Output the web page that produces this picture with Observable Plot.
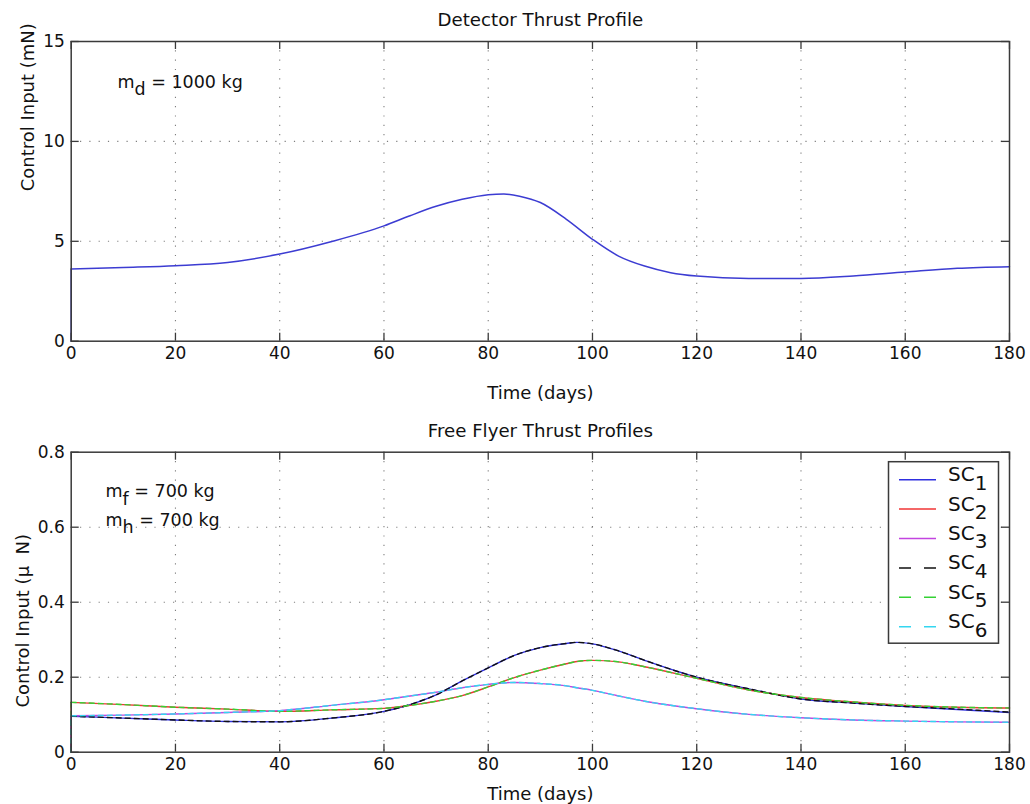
<!DOCTYPE html>
<html>
<head>
<meta charset="utf-8">
<script src="https://cdn.jsdelivr.net/npm/d3@7"></script>
<script src="https://cdn.jsdelivr.net/npm/@observablehq/plot@0.6"></script>
<style>
  body { margin: 0; background: #fff; }
  #wrap { position: relative; width: 1030px; height: 804px; overflow: hidden; background: #fff; }
  #wrap svg { position: absolute; left: 0; }
</style>
</head>
<body>
<div id="wrap"></div>
<script>
// ---------- data ----------
const xTicks = [0, 20, 40, 60, 80, 100, 120, 140, 160, 180];
const topYTicks = [0, 5, 10, 15];
const botYTicks = [0, 0.2, 0.4, 0.6, 0.8];

const detDays   = [0, 0, 10, 20, 30, 40, 50, 60, 65, 70, 75, 80, 83, 86, 90, 95, 100, 105, 110, 115, 120, 130, 140, 150, 160, 170, 180];
const detThrust = [0, 3.61, 3.69, 3.78, 3.94, 4.36, 4.99, 5.77, 6.28, 6.75, 7.1, 7.33, 7.37, 7.26, 6.94, 6.1, 5.1, 4.26, 3.76, 3.43, 3.26, 3.14, 3.14, 3.26, 3.46, 3.65, 3.73];

const ffDays = [0, 0, 10, 20, 30, 40, 50, 60, 65, 70, 75, 80, 85, 90, 95, 97, 100, 105, 110, 120, 130, 140, 150, 160, 170, 180];
const sc1 = [0, 0.096, 0.091, 0.086, 0.082, 0.081, 0.091, 0.109, 0.127, 0.153, 0.19, 0.225, 0.258, 0.279, 0.29, 0.293, 0.289, 0.27, 0.245, 0.2, 0.169, 0.142, 0.131, 0.122, 0.114, 0.106];
const sc2 = [0, 0.133, 0.127, 0.12, 0.115, 0.109, 0.113, 0.117, 0.125, 0.136, 0.151, 0.174, 0.199, 0.219, 0.236, 0.242, 0.245, 0.241, 0.228, 0.197, 0.166, 0.146, 0.134, 0.125, 0.12, 0.118];
const sc3 = [0, 0.097, 0.099, 0.102, 0.106, 0.111, 0.125, 0.14, 0.15, 0.16, 0.172, 0.181, 0.186, 0.183, 0.177, 0.172, 0.165, 0.15, 0.136, 0.116, 0.101, 0.092, 0.086, 0.083, 0.081, 0.08];
const sc4 = [0, 0.096, 0.091, 0.086, 0.082, 0.081, 0.091, 0.109, 0.127, 0.153, 0.19, 0.225, 0.258, 0.279, 0.29, 0.293, 0.289, 0.27, 0.245, 0.2, 0.169, 0.142, 0.131, 0.122, 0.115, 0.107];
const sc5 = [0, 0.133, 0.127, 0.12, 0.115, 0.109, 0.113, 0.117, 0.125, 0.136, 0.151, 0.174, 0.199, 0.219, 0.236, 0.242, 0.245, 0.241, 0.228, 0.197, 0.166, 0.146, 0.134, 0.125, 0.12, 0.118];
const sc6 = [0, 0.097, 0.099, 0.102, 0.106, 0.111, 0.125, 0.14, 0.15, 0.16, 0.172, 0.181, 0.186, 0.183, 0.177, 0.172, 0.165, 0.15, 0.136, 0.116, 0.101, 0.092, 0.086, 0.083, 0.081, 0.08];

const scNames  = ["SC_{1}", "SC_{2}", "SC_{3}", "SC_{4}", "SC_{5}", "SC_{6}"];
const scValues = [sc1, sc2, sc3, sc4, sc5, sc6];
const scColors = ["#2f2fe0", "#f03434", "#c244e0", "#111111", "#34d234", "#34d6f0"];
const scDashed = [false, false, false, true, true, true];

// ---------- helpers ----------
const FONT = "DejaVu Sans, Liberation Sans, sans-serif";
const W = 1030, H = 402;
const ML = 70.7, MR = 21;
const frameW = W - ML - MR;
const gridStyle = {stroke: "#000", strokeOpacity: 0.5, strokeWidth: 1.1, strokeDasharray: "1.2,8.1"};
const axisColor = "#3a3a3a";

function subscripts(svg) {
  d3.select(svg).selectAll("text").each(function () {
    const t = this.textContent;
    if (!t || !t.includes("_{")) return;
    const parts = t.split(/(_\{[^}]*\})/).filter(s => s.length);
    this.textContent = "";
    let down = false;
    for (const p of parts) {
      const ts = document.createElementNS("http://www.w3.org/2000/svg", "tspan");
      if (p.startsWith("_{")) {
        ts.textContent = p.slice(2, -1);
        ts.setAttribute("dy", "0.42em");
        down = true;
      } else {
        ts.textContent = p;
        if (down) { ts.setAttribute("dy", "-0.42em"); down = false; }
      }
      this.appendChild(ts);
    }
  });
}

function frameMarks(yTicks, frameH) {
  return [
    Plot.tickX(xTicks, {x: d => d, insetTop: frameH - 8, stroke: axisColor, strokeWidth: 1.3}),
    Plot.tickX(xTicks, {x: d => d, insetBottom: frameH - 8, stroke: axisColor, strokeWidth: 1.3}),
    Plot.tickY(yTicks, {y: d => d, insetRight: frameW - 8, stroke: axisColor, strokeWidth: 1.3}),
    Plot.tickY(yTicks, {y: d => d, insetLeft: frameW - 8, stroke: axisColor, strokeWidth: 1.3}),
    Plot.frame({stroke: axisColor, strokeWidth: 1.5}),
    Plot.axisX({ticks: xTicks, tickSize: 0, tickPadding: 6, tickFormat: d => String(d), fontSize: 17, label: null, fill: "#111"}),
    Plot.axisY({ticks: yTicks, tickSize: 0, tickPadding: 6.4, tickFormat: d => String(d), fontSize: 17, label: null, fill: "#111"})
  ];
}

// a series: the jump at t=0 drawn straight, the rest drawn as a smooth monotone curve
function seriesLines(days, vals, opts) {
  const pts = days.map((d, i) => ({day: d, v: vals[i]}));
  return [
    Plot.line(pts.slice(0, 2), {x: "day", y: "v", ...opts}),
    Plot.line(pts.slice(1), {x: "day", y: "v", curve: "monotone-x", ...opts})
  ];
}

// ---------- top panel ----------
const MT1 = 41, MB1 = 61.3;
const frameH1 = H - MT1 - MB1;

const topPlot = Plot.plot({
  width: W, height: H,
  marginLeft: ML, marginRight: MR, marginTop: MT1, marginBottom: MB1,
  style: {fontFamily: FONT, fontSize: "17px", color: "#111", background: "transparent", overflow: "visible"},
  x: {domain: [0, 180]},
  y: {domain: [0, 15]},
  marks: [
    Plot.gridX(xTicks.slice(1, -1), gridStyle),
    Plot.gridY(topYTicks.slice(1, -1), gridStyle),
    ...seriesLines(detDays, detThrust, {stroke: "#3c3cd2", strokeWidth: 1.5}),
    ...frameMarks(topYTicks, frameH1),
    Plot.text(["Detector Thrust Profile"], {text: d => d, frameAnchor: "top", dy: -16, lineAnchor: "bottom", fontSize: 18.2, fill: "#111"}),
    Plot.text(["Time (days)"], {text: d => d, frameAnchor: "bottom", dy: 57.4, lineAnchor: "bottom", fontSize: 18, fill: "#111"}),
    Plot.text(["Control Input (mN)"], {text: d => d, frameAnchor: "left", rotate: -90, dx: -37.4, lineAnchor: "bottom", fontSize: 18, fill: "#111"}),
    Plot.text(["m_{d} = 1000 kg"], {text: d => d, frameAnchor: "top-left", dx: 46.3, dy: 46, textAnchor: "start", lineAnchor: "bottom", fontSize: 17.5, fill: "#111"})
  ]
});
topPlot.style.top = "0px";
subscripts(topPlot);

// ---------- bottom panel ----------
const MT2 = 49.7, MB2 = 52.3;
const frameH2 = H - MT2 - MB2;

const seriesMarks = scValues.flatMap((vals, k) =>
  seriesLines(ffDays, vals, {
    stroke: scColors[k],
    strokeWidth: 1.4,
    strokeDasharray: scDashed[k] ? "5,4" : null
  })
);

const bottomPlot = Plot.plot({
  width: W, height: H,
  marginLeft: ML, marginRight: MR, marginTop: MT2, marginBottom: MB2,
  style: {fontFamily: FONT, fontSize: "17px", color: "#111", background: "transparent", overflow: "visible"},
  x: {domain: [0, 180]},
  y: {domain: [0, 0.8]},
  marks: [
    Plot.gridX(xTicks.slice(1, -1), gridStyle),
    Plot.gridY(botYTicks.slice(1, -1), gridStyle),
    ...seriesMarks,
    ...frameMarks(botYTicks, frameH2),
    Plot.text(["Free Flyer Thrust Profiles"], {text: d => d, frameAnchor: "top", dy: -15, lineAnchor: "bottom", fontSize: 18.2, fill: "#111"}),
    Plot.text(["Time (days)"], {text: d => d, frameAnchor: "bottom", dy: 48.1, lineAnchor: "bottom", fontSize: 18, fill: "#111"}),
    Plot.text(["Control Input (\u03bc\u00a0\u00a0N)"], {text: d => d, frameAnchor: "bottom-left", rotate: -90, dx: -42.2, dy: -44.7, textAnchor: "start", lineAnchor: "bottom", fontSize: 18, fill: "#111"}),
    Plot.text(["m_{f} = 700 kg"], {text: d => d, frameAnchor: "top-left", dx: 34.3, dy: 45, textAnchor: "start", lineAnchor: "bottom", fontSize: 17.5, fill: "#111"}),
    Plot.text(["m_{h} = 700 kg"], {text: d => d, frameAnchor: "top-left", dx: 34.3, dy: 73.8, textAnchor: "start", lineAnchor: "bottom", fontSize: 17.5, fill: "#111"})
  ]
});
bottomPlot.style.top = H + "px";
subscripts(bottomPlot);

// legend inside the bottom frame (top-right corner)
{
  const svg = d3.select(bottomPlot);
  const boxW = 110, boxH = 181.5;
  const boxRight = W - MR - 10.5;
  const boxLeft = boxRight - boxW;
  const boxTop = MT2 + 10;
  const g = svg.append("g").attr("font-family", FONT).attr("font-size", 20).attr("fill", "#111").attr("text-anchor", "start");
  g.append("rect").attr("x", boxLeft).attr("y", boxTop).attr("width", boxW).attr("height", boxH)
    .attr("fill", "#fff").attr("stroke", axisColor).attr("stroke-width", 1.5);
  scNames.forEach((name, k) => {
    const yy = boxTop + 18 + k * 29.4;
    g.append("line").attr("x1", boxLeft + 10.5).attr("x2", boxLeft + 47.5).attr("y1", yy).attr("y2", yy)
      .attr("stroke", scColors[k]).attr("stroke-width", 1.5)
      .attr("stroke-dasharray", scDashed[k] ? "12,13" : null);
    g.append("text").attr("x", boxLeft + 59.5).attr("y", yy + 1.5).attr("text-anchor", "start").text(name);
  });
  subscripts(bottomPlot);
}

document.getElementById("wrap").append(topPlot, bottomPlot);
</script>
</body>
</html>
